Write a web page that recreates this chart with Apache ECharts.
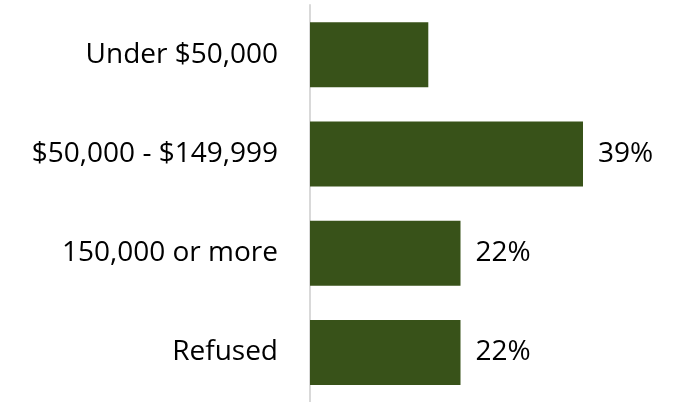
<!DOCTYPE html>
<html>
<head>
<meta charset="utf-8">
<script src="https://cdn.jsdelivr.net/npm/echarts@6/dist/echarts.min.js"></script>
<style>
  html, body { margin: 0; padding: 0; background: #fff; }
  #main { width: 686px; height: 402px; }
</style>
</head>
<body>
<div id="main"></div>
<script>
const categories = ['Under $50,000', '$50,000 - $149,999', '150,000 or more', 'Refused'];
const values = [16.9, 39, 21.5, 21.5];
const showLabel = [false, true, true, true];

const chart = echarts.init(document.getElementById('main'));
chart.setOption({
  animation: false,
  grid: { left: 310, right: 26, top: 5, bottom: -2 },
  xAxis: {
    type: 'value',
    min: 0,
    max: 50,
    show: false
  },
  yAxis: {
    type: 'category',
    inverse: true,
    data: categories,
    axisLine: { show: true, lineStyle: { color: '#d9d9d9', width: 2 } },
    axisTick: { show: false },
    axisLabel: {
      margin: 32,
      fontFamily: 'Open Sans',
      fontSize: 28,
      color: '#000'
    }
  },
  series: [{
    type: 'bar',
    barWidth: 65,
    itemStyle: { color: '#385219' },
    data: values.map((v, i) => ({
      value: v,
      label: { show: showLabel[i] }
    })),
    label: {
      position: 'right',
      distance: 15,
      fontFamily: 'Open Sans',
      fontSize: 28,
      color: '#000',
      formatter: p => Math.round(p.value) + '%'
    }
  }]
});
</script>
</body>
</html>
